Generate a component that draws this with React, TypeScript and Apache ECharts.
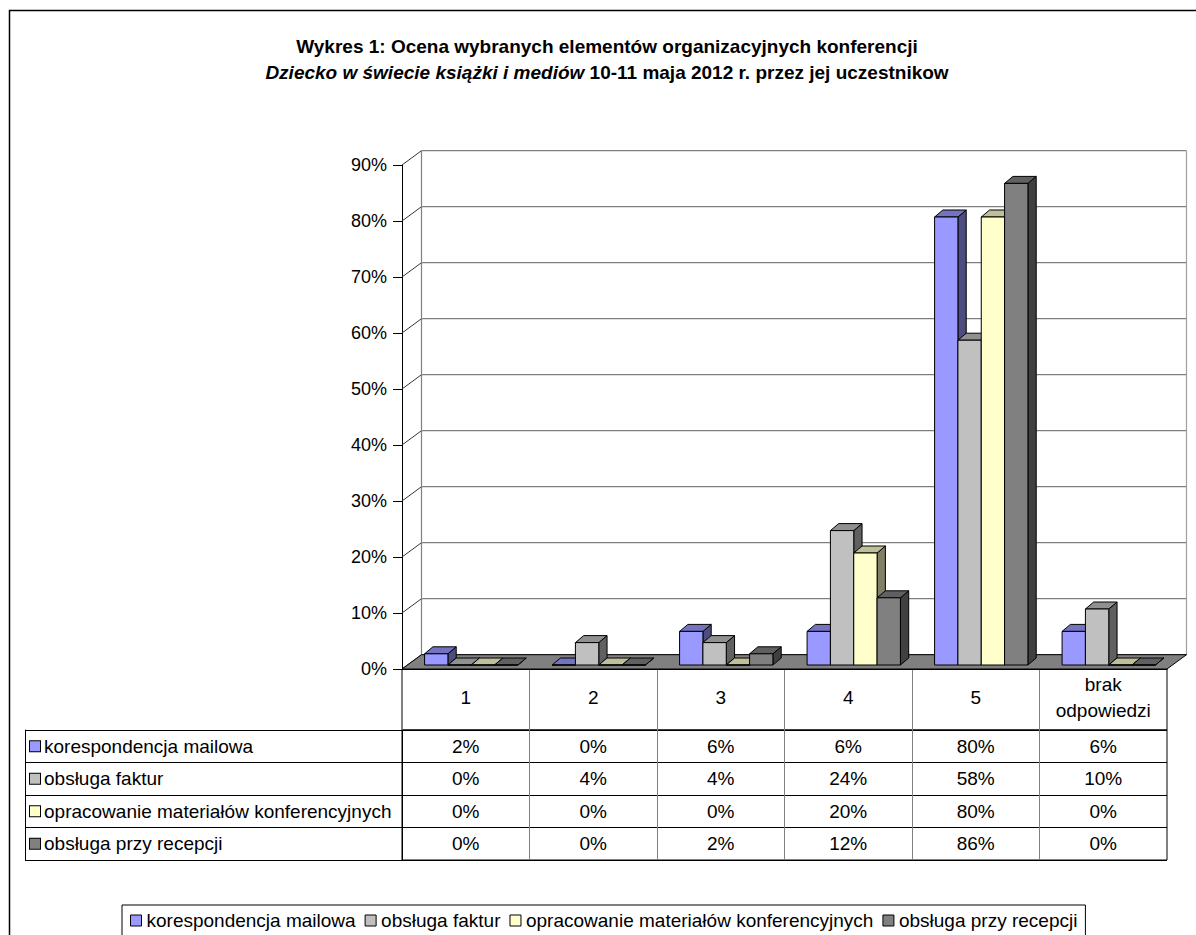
import React, { useEffect, useRef } from "react";
import * as echarts from "echarts";

const CATEGORIES = ["1", "2", "3", "4", "5", "brak\nodpowiedzi"];
const SERIES_NAMES = [
  "korespondencja mailowa",
  "obsługa faktur",
  "opracowanie materiałów konferencyjnych",
  "obsługa przy recepcji",
];
const KORESPONDENCJA = [2, 0, 6, 6, 80, 6];
const FAKTURY = [0, 4, 4, 24, 58, 10];
const MATERIALY = [0, 0, 0, 20, 80, 0];
const RECEPCJA = [0, 0, 2, 12, 86, 0];
const SERIES_VALUES = [KORESPONDENCJA, FAKTURY, MATERIALY, RECEPCJA];
const Y_TICKS = [0, 10, 20, 30, 40, 50, 60, 70, 80, 90];
const COLORS = ["#9999FF", "#C0C0C0", "#FFFFCC", "#808080"];

const FONT = "'Liberation Sans', Arial, sans-serif";
const WALL_DX = 19.5;
const WALL_DY = 14.3;
const BAR_OFF_X = 5.5;
const BAR_OFF_Y = 4;
const BAR_DX = 8.3;
const BAR_DY = 7;
const BAR_FRAC = 0.183;

function shade(hex: string, f: number) {
  const n = parseInt(hex.slice(1), 16);
  const r = Math.round(((n >> 16) & 255) * f);
  const g = Math.round(((n >> 8) & 255) * f);
  const b = Math.round((n & 255) * f);
  return `rgb(${r},${g},${b})`;
}

export default function App() {
  const ref = useRef<HTMLDivElement>(null);
  useEffect(() => {
    if (!ref.current) return;
    const chart = echarts.init(ref.current, undefined, { renderer: "svg" });
    const yMax = Y_TICKS[Y_TICKS.length - 1];

    const barSeries = SERIES_NAMES.map((name, s) => ({
      type: "custom",
      name,
      xAxisIndex: 0,
      yAxisIndex: 0,
      itemStyle: { color: COLORS[s], borderColor: "#000", borderWidth: 1 },
      data: SERIES_VALUES[s].map((v, c) => [c, v]),
      renderItem: (params: any, api: any) => {
        const c = api.value(0);
        const v = api.value(1);
        const base = api.coord([c, 0]);
        const top = api.coord([c, v]);
        const band = api.size([1, 0])[0];
        const bw = band * BAR_FRAC;
        const x0 = base[0] + BAR_OFF_X - 2 * bw + s * bw;
        const yb = base[1] - BAR_OFF_Y;
        const yt = top[1] - BAR_OFF_Y;
        const stroke = { stroke: "#000", lineWidth: 1 };
        return {
          type: "group",
          children: [
            {
              type: "polygon",
              shape: {
                points: [
                  [x0 + bw, yt],
                  [x0 + bw + BAR_DX, yt - BAR_DY],
                  [x0 + bw + BAR_DX, yb - BAR_DY],
                  [x0 + bw, yb],
                ],
              },
              style: { fill: shade(COLORS[s], 0.5), ...stroke },
            },
            {
              type: "polygon",
              shape: {
                points: [
                  [x0, yt],
                  [x0 + bw, yt],
                  [x0 + bw + BAR_DX, yt - BAR_DY],
                  [x0 + BAR_DX, yt - BAR_DY],
                ],
              },
              style: { fill: shade(COLORS[s], 0.75), ...stroke },
            },
            {
              type: "rect",
              shape: { x: x0, y: yt, width: bw, height: Math.max(0, yb - yt) },
              style: { fill: COLORS[s], ...stroke },
            },
          ],
        };
      },
    }));

    const cellData: number[][] = [];
    SERIES_VALUES.forEach((arr, s) => arr.forEach((v, c) => cellData.push([c, s, v])));

    const rich: any = {
      t: { fontSize: 19, fontFamily: FONT, color: "#000", padding: [0, 0, 0, 4] },
    };
    COLORS.forEach((col, i) => {
      rich["s" + i] = {
        width: 10,
        height: 10,
        backgroundColor: col,
        borderColor: "#000",
        borderWidth: 1,
      };
    });

    const option: any = {
      animation: false,
      backgroundColor: "#fff",
      graphic: [
        {
          type: "rect",
          z: -10,
          shape: { x: 9.5, y: 10.5, width: 1200, height: 940 },
          style: { fill: "none", stroke: "#000", lineWidth: 1.5 },
        },
        {
          type: "text",
          x: 607,
          y: 46,
          style: {
            text: "Wykres 1: Ocena wybranych elementów organizacyjnych konferencji",
            font: `bold 19px ${FONT}`,
            fill: "#000",
            align: "center",
            verticalAlign: "middle",
          },
        },
        {
          type: "text",
          x: 607,
          y: 72,
          style: {
            text: "{bi|Dziecko w świecie książki i mediów}{b| 10-11 maja 2012 r. przez jej uczestnikow}",
            align: "center",
            verticalAlign: "middle",
            rich: {
              bi: { fontSize: 19, fontWeight: "bold", fontStyle: "italic", fontFamily: FONT, fill: "#000" },
              b: { fontSize: 19, fontWeight: "bold", fontFamily: FONT, fill: "#000" },
            },
          },
        },
      ],
      legend: {
        data: SERIES_NAMES,
        left: 122,
        top: 905,
        orient: "horizontal",
        icon: "rect",
        itemWidth: 11,
        itemHeight: 11,
        itemGap: 9,
        padding: [6, 8],
        borderColor: "#000",
        borderWidth: 1,
        selectedMode: false,
        itemStyle: { borderColor: "#000", borderWidth: 1 },
        textStyle: { fontSize: 19, fontFamily: FONT, color: "#000" },
      },
      grid: [
        { left: 402, width: 765, top: 165, height: 504 },
        { left: 402, width: 765, top: 669, height: 61, show: true, borderColor: "#000", borderWidth: 1, backgroundColor: "transparent" },
        { left: 402, width: 765, top: 730, height: 130, show: true, borderColor: "#000", borderWidth: 1, backgroundColor: "transparent" },
      ],
      xAxis: [
        {
          type: "category",
          gridIndex: 0,
          data: CATEGORIES,
          axisLine: { show: true, lineStyle: { color: "#000", width: 1 } },
          axisTick: { show: false },
          axisLabel: {
            interval: 0,
            margin: 28,
            verticalAlign: "middle",
            fontSize: 19,
            lineHeight: 26,
            fontFamily: FONT,
            color: "#000",
          },
          splitLine: { show: false },
        },
        {
          type: "category",
          gridIndex: 1,
          data: CATEGORIES,
          axisLine: { show: false },
          axisTick: { show: false },
          axisLabel: { show: false },
          splitLine: { show: true, interval: 0, lineStyle: { color: "#808080", width: 1 } },
        },
        {
          type: "category",
          gridIndex: 2,
          data: CATEGORIES,
          axisLine: { show: false },
          axisTick: { show: false },
          axisLabel: { show: false },
          splitLine: { show: true, interval: 0, lineStyle: { color: "#808080", width: 1 } },
        },
      ],
      yAxis: [
        {
          type: "value",
          gridIndex: 0,
          min: 0,
          max: yMax,
          interval: 10,
          axisLine: { show: true, lineStyle: { color: "#000", width: 1 } },
          axisTick: { show: true, length: 9, lineStyle: { color: "#000" } },
          axisLabel: {
            formatter: "{value}%",
            margin: 15,
            fontSize: 18,
            fontFamily: FONT,
            color: "#000",
          },
          splitLine: { show: false },
        },
        { type: "value", gridIndex: 1, show: false },
        {
          type: "category",
          gridIndex: 2,
          inverse: true,
          data: SERIES_NAMES,
          axisLine: { show: true, lineStyle: { color: "#000", width: 1 } },
          axisTick: { show: true, length: 377, interval: 0, lineStyle: { color: "#000" } },
          axisLabel: {
            interval: 0,
            align: "left",
            margin: 372,
            formatter: (val: string) => `{s${SERIES_NAMES.indexOf(val)}|}{t|${val}}`,
            rich,
          },
          splitLine: { show: true, interval: 0, lineStyle: { color: "#000", width: 1 } },
        },
        {
          type: "value",
          gridIndex: 2,
          position: "left",
          offset: 377,
          axisLine: { show: true, onZero: false, lineStyle: { color: "#000", width: 1 } },
          axisTick: { show: false },
          axisLabel: { show: false },
          splitLine: { show: false },
        },
      ],
      series: [
        {
          type: "custom",
          name: "wall",
          xAxisIndex: 0,
          yAxisIndex: 0,
          silent: true,
          data: Y_TICKS.map((v) => [0, v]),
          renderItem: (params: any, api: any) => {
            const gx = params.coordSys.x;
            const gw = params.coordSys.width;
            const y = api.coord([0, api.value(1)])[1];
            return {
              type: "group",
              children: [
                {
                  type: "line",
                  shape: { x1: gx, y1: y, x2: gx + WALL_DX, y2: y - WALL_DY },
                  style: { stroke: "#333", lineWidth: 1 },
                },
                {
                  type: "line",
                  shape: { x1: gx + WALL_DX, y1: y - WALL_DY, x2: gx + gw + WALL_DX, y2: y - WALL_DY },
                  style: { stroke: "#808080", lineWidth: 1.2 },
                },
              ],
            };
          },
        },
        {
          type: "custom",
          name: "floor",
          xAxisIndex: 0,
          yAxisIndex: 0,
          silent: true,
          data: [[0, 0]],
          renderItem: (params: any, api: any) => {
            const gx = params.coordSys.x;
            const gw = params.coordSys.width;
            const y0 = api.coord([0, 0])[1];
            const yT = api.coord([0, yMax])[1];
            return {
              type: "group",
              children: [
                {
                  type: "line",
                  shape: { x1: gx + WALL_DX, y1: yT - WALL_DY, x2: gx + WALL_DX, y2: y0 - WALL_DY },
                  style: { stroke: "#808080", lineWidth: 1.2 },
                },
                {
                  type: "line",
                  shape: { x1: gx + gw + WALL_DX, y1: yT - WALL_DY, x2: gx + gw + WALL_DX, y2: y0 - WALL_DY },
                  style: { stroke: "#a0a0a0", lineWidth: 1.2 },
                },
                {
                  type: "polygon",
                  shape: {
                    points: [
                      [gx, y0],
                      [gx + gw, y0],
                      [gx + gw + WALL_DX, y0 - WALL_DY],
                      [gx + WALL_DX, y0 - WALL_DY],
                    ],
                  },
                  style: { fill: "#808080", stroke: "#000", lineWidth: 1 },
                },
              ],
            };
          },
        },
        ...barSeries,
        {
          type: "custom",
          name: "cells",
          xAxisIndex: 2,
          yAxisIndex: 2,
          silent: true,
          data: cellData,
          renderItem: (params: any, api: any) => {
            const p = api.coord([api.value(0), api.value(1)]);
            return {
              type: "text",
              x: p[0],
              y: p[1],
              style: {
                text: `${api.value(2)}%`,
                fontSize: 19,
                fontFamily: FONT,
                fill: "#000",
                align: "center",
                verticalAlign: "middle",
              },
            };
          },
        },
      ],
    };
    chart.setOption(option);
    return () => chart.dispose();
  }, []);

  return (
    <div
      ref={ref}
      style={{ position: "absolute", left: 0, top: 0, width: 1196, height: 935, background: "#fff" }}
    />
  );
}
